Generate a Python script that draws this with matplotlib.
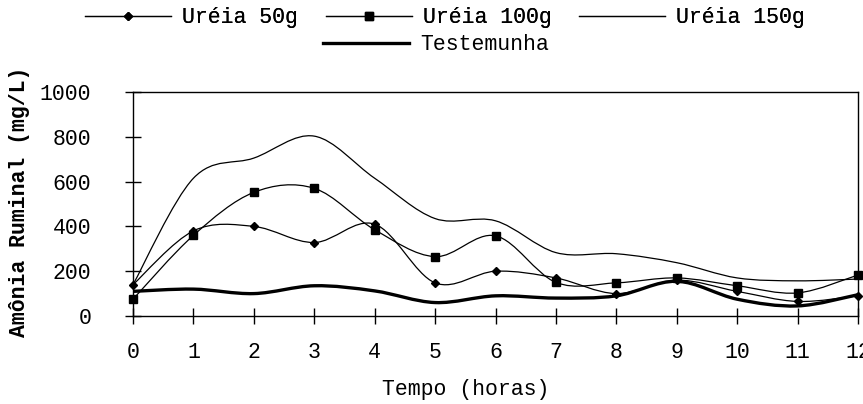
import numpy as np
import matplotlib
matplotlib.use("Agg")
import matplotlib.pyplot as plt
from matplotlib.path import Path
from matplotlib.patches import PathPatch
from matplotlib.lines import Line2D

plt.rcParams['font.family'] = ['Liberation Mono', 'DejaVu Sans Mono']

horas = [0, 1, 2, 3, 4, 5, 6, 7, 8, 9, 10, 11, 12]
ureia_50 = [140, 380, 400, 328, 410, 148, 200, 170, 100, 160, 110, 65, 90]
ureia_100 = [75, 360, 552, 570, 385, 265, 358, 150, 148, 170, 135, 103, 183]
ureia_150 = [140, 615, 705, 803, 615, 435, 425, 283, 278, 238, 170, 157, 165]
testemunha = [110, 120, 100, 135, 112, 60, 90, 80, 90, 155, 75, 45, 95]

FS = 15.5


def smooth_path(x, y):
    # curva suavizada (bezier tipo catmull-rom) passando pelos pontos
    pts = np.column_stack([x, y]).astype(float)
    n = len(pts)
    verts = [pts[0]]
    codes = [Path.MOVETO]
    for i in range(n - 1):
        p0 = pts[max(i - 1, 0)]
        p1 = pts[i]
        p2 = pts[i + 1]
        p3 = pts[min(i + 2, n - 1)]
        c1 = p1 + (p2 - p0) / 6.0
        c2 = p2 - (p3 - p1) / 6.0
        verts += [c1, c2, p2]
        codes += [Path.CURVE4] * 3
    return Path(verts, codes)


fig = plt.figure(figsize=(8.63, 4.04), dpi=100)
ax = fig.add_axes([133 / 863, 1 - 316 / 404, 725 / 863, 224 / 404])

series = [
    (ureia_50, 'Uréia 50g', 0.9, 'D', 4),
    (ureia_100, 'Uréia 100g', 0.9, 's', 6),
    (ureia_150, 'Uréia 150g', 0.9, None, 0),
    (testemunha, 'Testemunha', 2.4, None, 0),
]
handles = []
for vals, nome, lw, mk, ms in series:
    ax.add_patch(PathPatch(smooth_path(horas, vals), fill=False, ec='black', lw=lw))
    if mk:
        ax.plot(horas, vals, ls='none', marker=mk, ms=ms, color='black', clip_on=False)
    handles.append(Line2D([], [], color='black', lw=lw, marker=mk, ms=ms, label=nome))

ax.set_xlim(0, 12)
ax.set_ylim(0, 1000)
ax.set_xticks(horas)
ax.set_yticks(range(0, 1001, 200))
ax.tick_params(direction='inout', length=12, width=1, labelsize=FS)
ax.tick_params(axis='y', pad=24)
ax.tick_params(axis='x', pad=13)
for s in ax.spines.values():
    s.set_linewidth(1)

fig.text(466 / 863, 1 - 389 / 404, 'Tempo (horas)', ha='center', va='center', fontsize=FS)
fig.text(20 / 863, 1 - 202 / 404, 'Amônia Ruminal (mg/L)', rotation=90, ha='center', va='center',
         fontsize=FS, fontweight='bold')

leg1 = fig.legend(handles=handles[:3], loc='center', bbox_to_anchor=(445 / 863, 1 - 18 / 404), ncol=3,
                  frameon=False, fontsize=FS, handlelength=4.0, handletextpad=0.5, columnspacing=1.3,
                  borderpad=0, borderaxespad=0)
fig.add_artist(leg1)
fig.legend(handles=handles[3:], loc='center left', bbox_to_anchor=(323 / 863, 1 - 45 / 404),
           frameon=False, fontsize=FS, handlelength=4.0, handletextpad=0.5, borderpad=0, borderaxespad=0)

fig.savefig('out.png', dpi=100)
